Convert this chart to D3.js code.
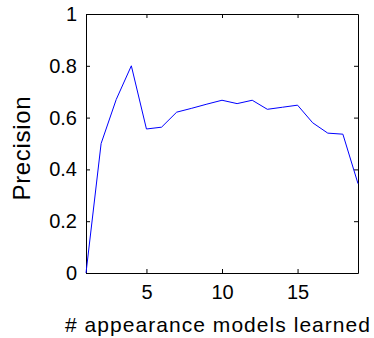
<!DOCTYPE html>
<html>
<head>
<meta charset="utf-8">
<script src="https://cdn.jsdelivr.net/npm/d3@7"></script>
<style>
  body { margin: 0; background: #fff; }
  text { font-family: "Liberation Sans", Arial, sans-serif; fill: #000; }
</style>
</head>
<body>
<div id="chart"></div>
<script>
var svgWidth = 374;
var svgHeight = 338;

var margin = { top: 14, right: 16, bottom: 65, left: 86 };
var width = svgWidth - margin.left - margin.right;
var height = svgHeight - margin.top - margin.bottom;

// data
var numModels = [1, 2, 3, 4, 5, 6, 7, 8, 9, 10, 11, 12, 13, 14, 15, 16, 17, 18, 19];
var precision = [0, 0.50, 0.67, 0.80, 0.556, 0.563, 0.621, 0.636, 0.652, 0.667, 0.654, 0.667, 0.632, 0.640, 0.648, 0.580, 0.540, 0.536, 0.345];
var xTicks = [5, 10, 15];
var yTicks = [0, 0.2, 0.4, 0.6, 0.8, 1];

var svg = d3.select("#chart")
  .append("svg")
  .attr("width", svgWidth)
  .attr("height", svgHeight);

var chartGroup = svg.append("g")
  .attr("transform", `translate(${margin.left}, ${margin.top})`);

var xScale = d3.scaleLinear().domain([1, 19]).range([0, width]);
var yScale = d3.scaleLinear().domain([0, 1]).range([height, 0]);

var yFmt = d => d === 0 || d === 1 ? String(d) : d.toFixed(1);

// bottom / left axes with inward ticks, top / right just mirror the ticks
var bottomAxis = d3.axisBottom(xScale).tickValues(xTicks).tickSizeInner(-4).tickSizeOuter(0).tickPadding(12);
var leftAxis = d3.axisLeft(yScale).tickValues(yTicks).tickSizeInner(-4).tickSizeOuter(0).tickPadding(9).tickFormat(yFmt);
var topAxis = d3.axisTop(xScale).tickValues(xTicks).tickSizeInner(-4).tickSizeOuter(0).tickFormat("");
var rightAxis = d3.axisRight(yScale).tickValues(yTicks).tickSizeInner(-4).tickSizeOuter(0).tickFormat("");

chartGroup.append("g")
  .attr("transform", `translate(0, ${height})`)
  .call(bottomAxis);
chartGroup.append("g").call(leftAxis);
chartGroup.append("g").call(topAxis);
chartGroup.append("g").attr("transform", `translate(${width}, 0)`).call(rightAxis);

chartGroup.selectAll(".domain").attr("stroke", "#000").attr("stroke-width", 1);
chartGroup.selectAll(".tick line").attr("stroke", "#000");
chartGroup.selectAll(".tick text").style("font-size", "20px").style("font-family", "Liberation Sans, Arial, sans-serif");

// the line
var line = d3.line()
  .x((d, i) => xScale(numModels[i]))
  .y(d => yScale(d));

chartGroup.append("path")
  .datum(precision)
  .attr("fill", "none")
  .attr("stroke", "#0000ff")
  .attr("stroke-width", 1)
  .attr("d", line);

// axis labels (the x label is a bit wider in the original)
chartGroup.append("text")
  .attr("x", width / 2 - 4.5)
  .attr("y", height + 59)
  .attr("text-anchor", "middle")
  .attr("textLength", 305)
  .attr("lengthAdjust", "spacing")
  .style("font-size", "21px")
  .text("# appearance models learned");

chartGroup.append("text")
  .attr("transform", "rotate(-90)")
  .attr("x", -height / 2 - 5)
  .attr("y", -56.5)
  .attr("text-anchor", "middle")
  .style("font-size", "24px")
  .attr("textLength", 104)
  .attr("lengthAdjust", "spacing")
  .text("Precision");
</script>
</body>
</html>
